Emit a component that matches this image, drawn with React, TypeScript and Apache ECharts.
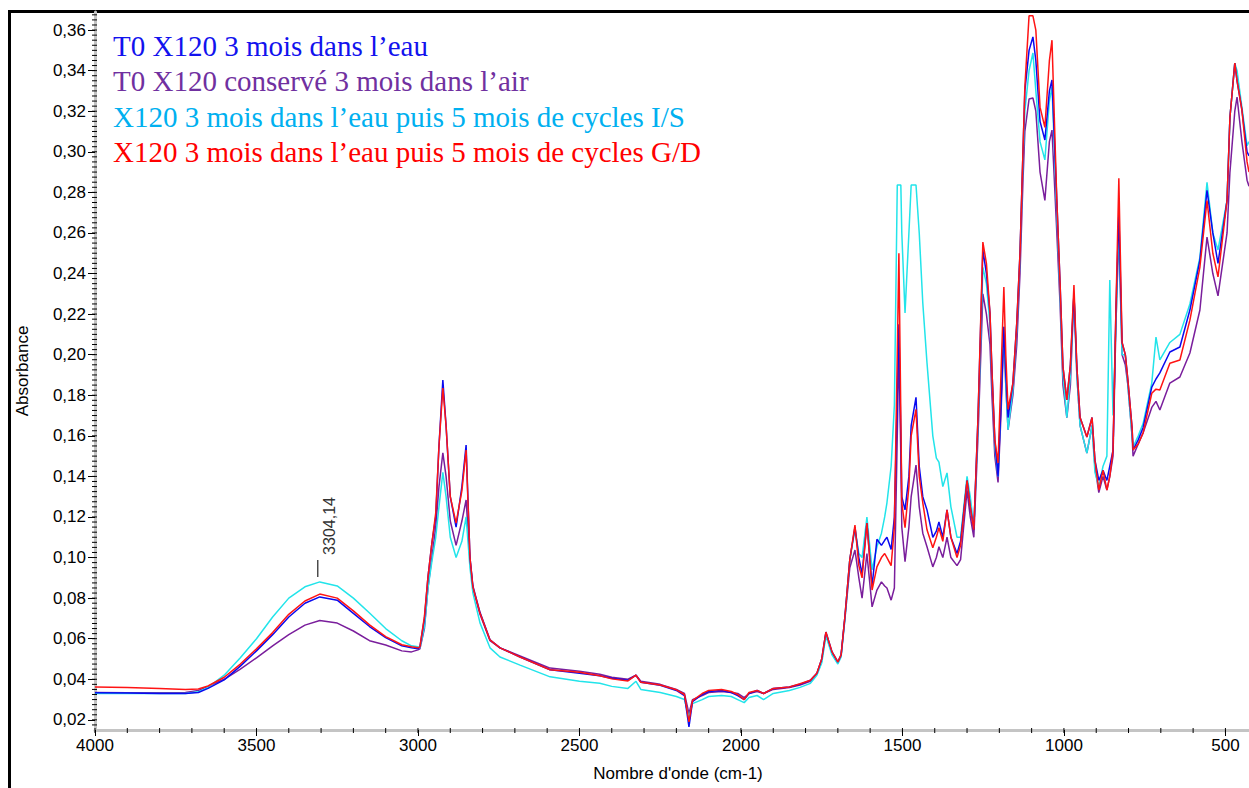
import React, { useEffect, useRef } from "react";
import * as echarts from "echarts";

// Wavenumber (cm-1) sampling shared by all four spectra
const wavenumbers = [
  4000, 3900, 3800, 3720, 3680, 3650, 3600, 3550, 3500, 3450, 3400, 3350, 3304, 3250, 3200, 3150, 3100, 3050, 3020, 3000,
  2994, 2980, 2969, 2957, 2945, 2935, 2923, 2913, 2900, 2882, 2864, 2851, 2839, 2830, 2808, 2777, 2746, 2684, 2591, 2500,
  2437, 2400, 2350, 2325, 2310, 2250, 2200, 2175, 2161, 2150, 2120, 2100, 2060, 2030, 2010, 1990, 1975, 1950, 1930, 1900,
  1850, 1817, 1785, 1765, 1750, 1737, 1718, 1700, 1690, 1678, 1663, 1647, 1635, 1625, 1610, 1594, 1579, 1565, 1555, 1548,
  1535, 1525, 1516, 1511, 1505, 1502, 1492, 1480, 1473, 1458, 1448, 1437, 1424, 1406, 1395, 1387, 1375, 1362, 1350, 1331,
  1320, 1300, 1290, 1279, 1266, 1251, 1240, 1229, 1223, 1214, 1204, 1195, 1186, 1180, 1173, 1158, 1146, 1136, 1127, 1121,
  1108, 1096, 1087, 1074, 1059, 1045, 1037, 1022, 1012, 1003, 991, 980, 969, 960, 950, 929, 913, 904, 892, 879,
  867, 858, 848, 839, 830, 820, 810, 802, 789, 786, 770, 755, 728, 715, 703, 672, 641, 610, 579, 557,
  539, 523, 495, 486, 471, 464, 449, 433, 427,
];

// T0 X120 3 mois dans l'eau (blue)
const t0Eau = [
  0.0333, 0.0332, 0.033, 0.033, 0.0335, 0.0355, 0.0397, 0.0465, 0.054, 0.062, 0.0707, 0.0775, 0.0806, 0.079, 0.0725, 0.066, 0.0605, 0.0565, 0.0555, 0.055,
  0.056, 0.07, 0.0905, 0.107, 0.12, 0.155, 0.1875, 0.165, 0.13, 0.115, 0.135, 0.1555, 0.1, 0.086, 0.073, 0.0595, 0.0555, 0.051, 0.0447, 0.043,
  0.0417, 0.0405, 0.0395, 0.042, 0.0385, 0.037, 0.0345, 0.032, 0.0165, 0.029, 0.0325, 0.034, 0.0345, 0.0335, 0.032, 0.03, 0.033, 0.0345, 0.033, 0.0355,
  0.0362, 0.0375, 0.0395, 0.043, 0.05, 0.0633, 0.0535, 0.0486, 0.052, 0.0712, 0.099, 0.115, 0.1, 0.092, 0.117, 0.086, 0.109, 0.106, 0.1085, 0.11,
  0.104, 0.12, 0.18, 0.215, 0.16, 0.13, 0.1235, 0.14, 0.165, 0.179, 0.145, 0.13, 0.1235, 0.11, 0.113, 0.1176, 0.11, 0.1235, 0.11, 0.102,
  0.108, 0.138, 0.125, 0.1137, 0.1693, 0.2516, 0.24, 0.2206, 0.1925, 0.158, 0.14, 0.175, 0.2137, 0.19, 0.169, 0.186, 0.2156, 0.25, 0.299, 0.33,
  0.35, 0.3566, 0.345, 0.315, 0.3058, 0.33, 0.3354, 0.276, 0.2353, 0.194, 0.1777, 0.195, 0.23, 0.194, 0.169, 0.1594, 0.169, 0.148, 0.138, 0.143,
  0.138, 0.145, 0.153, 0.222, 0.27, 0.206, 0.2, 0.1875, 0.164, 0.153, 0.158, 0.164, 0.184, 0.188, 0.191, 0.2013, 0.2038, 0.222, 0.2466, 0.281,
  0.26, 0.245, 0.276, 0.317, 0.3437, 0.335, 0.3206, 0.3, 0.298,
];

// T0 X120 conservé 3 mois dans l'air (purple)
const t0Air = [
  0.0335, 0.0334, 0.0333, 0.0335, 0.0345, 0.0365, 0.04, 0.045, 0.0506, 0.0565, 0.062, 0.0667, 0.069, 0.0677, 0.0638, 0.059, 0.0569, 0.054, 0.0535, 0.0545,
  0.055, 0.065, 0.085, 0.1, 0.115, 0.135, 0.1516, 0.14, 0.118, 0.106, 0.118, 0.1284, 0.099, 0.085, 0.072, 0.059, 0.0555, 0.0515, 0.0455, 0.044,
  0.0425, 0.041, 0.04, 0.042, 0.039, 0.0375, 0.035, 0.033, 0.023, 0.03, 0.032, 0.0335, 0.034, 0.0335, 0.033, 0.031, 0.033, 0.034, 0.033, 0.035,
  0.036, 0.0372, 0.039, 0.0425, 0.049, 0.0625, 0.053, 0.048, 0.0515, 0.07, 0.095, 0.1037, 0.09, 0.08, 0.102, 0.0757, 0.084, 0.088, 0.086, 0.085,
  0.079, 0.085, 0.16, 0.205, 0.15, 0.115, 0.098, 0.115, 0.13, 0.1456, 0.125, 0.112, 0.1053, 0.0954, 0.1, 0.1053, 0.1, 0.11, 0.1, 0.096,
  0.099, 0.133, 0.12, 0.11, 0.16, 0.23, 0.22, 0.205, 0.18, 0.15, 0.137, 0.17, 0.21, 0.185, 0.163, 0.18, 0.205, 0.24, 0.285, 0.31,
  0.326, 0.3265, 0.32, 0.29, 0.276, 0.305, 0.3107, 0.26, 0.225, 0.185, 0.169, 0.185, 0.23, 0.19, 0.165, 0.1515, 0.165, 0.145, 0.132, 0.14,
  0.1333, 0.14, 0.15, 0.215, 0.26, 0.2, 0.195, 0.185, 0.16, 0.15, 0.156, 0.1614, 0.174, 0.177, 0.1727, 0.186, 0.189, 0.2008, 0.222, 0.258,
  0.24, 0.229, 0.26, 0.29, 0.32, 0.327, 0.305, 0.286, 0.283,
];

// X120 3 mois dans l'eau puis 5 mois de cycles I/S (cyan)
const cyclesIS = [
  0.033, 0.033, 0.033, 0.033, 0.0338, 0.036, 0.042, 0.0506, 0.06, 0.0707, 0.08, 0.0856, 0.088, 0.086, 0.08, 0.0727, 0.065, 0.059, 0.0565, 0.056,
  0.0555, 0.066, 0.085, 0.098, 0.11, 0.125, 0.142, 0.13, 0.11, 0.1, 0.108, 0.12, 0.095, 0.0826, 0.0678, 0.0555, 0.051, 0.047, 0.0412, 0.039,
  0.038, 0.0365, 0.0355, 0.039, 0.035, 0.0335, 0.0315, 0.03, 0.021, 0.028, 0.03, 0.0315, 0.032, 0.0315, 0.03, 0.0285, 0.031, 0.032, 0.03, 0.033,
  0.0345, 0.036, 0.038, 0.042, 0.048, 0.0614, 0.052, 0.0475, 0.051, 0.07, 0.099, 0.114, 0.102, 0.1, 0.12, 0.094, 0.1053, 0.112, 0.12, 0.127,
  0.145, 0.175, 0.2836, 0.2836, 0.2836, 0.26, 0.2206, 0.26, 0.2836, 0.2836, 0.26, 0.2255, 0.196, 0.16, 0.149, 0.147, 0.135, 0.1417, 0.125, 0.11,
  0.11, 0.14, 0.13, 0.115, 0.165, 0.243, 0.235, 0.215, 0.19, 0.155, 0.14, 0.18, 0.2137, 0.185, 0.163, 0.183, 0.213, 0.248, 0.295, 0.32,
  0.34, 0.3487, 0.33, 0.305, 0.296, 0.325, 0.332, 0.27, 0.23, 0.19, 0.169, 0.19, 0.23, 0.19, 0.165, 0.1515, 0.165, 0.142, 0.135, 0.145,
  0.15, 0.2368, 0.17, 0.215, 0.265, 0.2, 0.2, 0.185, 0.16, 0.1545, 0.16, 0.166, 0.186, 0.2087, 0.1974, 0.206, 0.21, 0.225, 0.248, 0.285,
  0.26, 0.2516, 0.276, 0.317, 0.3437, 0.34, 0.322, 0.303, 0.305,
];

// X120 3 mois dans l'eau puis 5 mois de cycles G/D (red)
const cyclesGD = [
  0.0362, 0.036, 0.0355, 0.035, 0.0352, 0.0367, 0.041, 0.0475, 0.055, 0.063, 0.072, 0.0786, 0.082, 0.08, 0.0737, 0.0668, 0.061, 0.057, 0.056, 0.0555,
  0.056, 0.071, 0.0905, 0.107, 0.122, 0.155, 0.1836, 0.165, 0.13, 0.117, 0.133, 0.153, 0.1, 0.0855, 0.0727, 0.0594, 0.0555, 0.051, 0.0447, 0.0435,
  0.0417, 0.0402, 0.0392, 0.042, 0.0385, 0.0372, 0.0348, 0.0325, 0.019, 0.0295, 0.033, 0.0345, 0.035, 0.034, 0.0325, 0.03, 0.0335, 0.0345, 0.033, 0.0355,
  0.0362, 0.0378, 0.0395, 0.043, 0.05, 0.0633, 0.0535, 0.0486, 0.052, 0.0712, 0.099, 0.116, 0.096, 0.09, 0.117, 0.084, 0.0954, 0.1, 0.102, 0.1,
  0.096, 0.115, 0.2, 0.25, 0.17, 0.127, 0.1147, 0.135, 0.16, 0.173, 0.14, 0.127, 0.1137, 0.1048, 0.11, 0.1147, 0.108, 0.1235, 0.11, 0.1,
  0.106, 0.138, 0.125, 0.1137, 0.1693, 0.2555, 0.245, 0.2206, 0.1925, 0.158, 0.1466, 0.19, 0.2334, 0.2, 0.173, 0.186, 0.2156, 0.25, 0.2994, 0.332,
  0.367, 0.367, 0.36, 0.322, 0.312, 0.345, 0.355, 0.276, 0.2353, 0.194, 0.1777, 0.195, 0.2343, 0.194, 0.169, 0.1594, 0.169, 0.148, 0.1333, 0.143,
  0.1333, 0.14, 0.153, 0.222, 0.287, 0.206, 0.2, 0.1875, 0.164, 0.153, 0.156, 0.1614, 0.181, 0.183, 0.1826, 0.1958, 0.1974, 0.217, 0.2432, 0.276,
  0.25, 0.2383, 0.276, 0.317, 0.3437, 0.335, 0.3206, 0.295, 0.29,
];

const seriesNames = [
  "T0 X120 3 mois dans l’eau",
  "T0 X120 conservé 3 mois dans l’air",
  "X120 3 mois dans l’eau puis 5 mois de cycles I/S",
  "X120 3 mois dans l’eau puis 5 mois de cycles G/D",
];
const seriesValues = [t0Eau, t0Air, cyclesIS, cyclesGD];
const lineColors = ["#0a0af0", "#7a1e9c", "#22e4ea", "#ff1414"];
const legendColors = ["#1212ee", "#7030a0", "#00b0f0", "#ff0000"];
const drawOrder = [1, 2, 0, 3];

const yTickValues = [0.02, 0.04, 0.06, 0.08, 0.1, 0.12, 0.14, 0.16, 0.18, 0.2, 0.22, 0.24, 0.26, 0.28, 0.3, 0.32, 0.34, 0.36];
const xTickValues = [4000, 3500, 3000, 2500, 2000, 1500, 1000, 500];
const peakWavenumber = 3304;
const peakLabel = "3304,14";

const yMin = 0.015;
const yMax = 0.3689;
const xMin = 427;
const xMax = 4000;

const sans = "'Liberation Sans', Arial, sans-serif";
const serif = "'Liberation Serif', 'Times New Roman', serif";

export default function App() {
  const ref = useRef<HTMLDivElement>(null);

  useEffect(() => {
    if (!ref.current) return;
    const chart = echarts.init(ref.current, null, { renderer: "svg" });

    const yMinor: number[] = [];
    for (let k = 7; k <= 147; k++) yMinor.push(+(k * 0.0025).toFixed(4));
    const xMinor: number[] = [];
    for (let v = 500; v <= 4000; v += 100) xMinor.push(v);

    const series: any[] = drawOrder.map((i) => ({
      type: "line",
      name: seriesNames[i],
      data: wavenumbers.map((w, j) => [w, seriesValues[i][j]]),
      showSymbol: false,
      symbol: "none",
      silent: true,
      lineStyle: { color: lineColors[i], width: 1.5 },
      itemStyle: { color: lineColors[i] },
    }));

    // Minor ticks drawn across the grey axis bands through the axes' own scales
    series.push({
      type: "custom",
      silent: true,
      clip: false,
      z: 20,
      data: xMinor.map((v) => [v]),
      encode: { x: 0 },
      renderItem: (_params: any, api: any) => {
        const pt = api.coord([api.value(0), yMin]);
        return {
          type: "line",
          shape: { x1: pt[0], y1: pt[1] - 2, x2: pt[0], y2: pt[1] + 3 },
          style: { stroke: "#000", lineWidth: 1 },
        };
      },
    });
    series.push({
      type: "custom",
      silent: true,
      clip: false,
      z: 20,
      data: yMinor.map((v) => [xMax, v]),
      encode: { x: 0, y: 1 },
      renderItem: (_params: any, api: any) => {
        const pt = api.coord([xMax, api.value(1)]);
        return {
          type: "line",
          shape: { x1: pt[0] - 3, y1: pt[1], x2: pt[0] + 2, y2: pt[1] },
          style: { stroke: "#000", lineWidth: 1 },
        };
      },
    });

    const frame = [
      {
        type: "line",
        shape: { x1: 9.5, y1: 11.5, x2: 9.5, y2: 788 },
        style: { stroke: "#000", lineWidth: 3 },
        silent: true,
      },
      {
        type: "line",
        shape: { x1: 8, y1: 11.5, x2: 1249, y2: 11.5 },
        style: { stroke: "#000", lineWidth: 3 },
        silent: true,
      },
    ];

    const legendTexts = seriesNames.map((name, i) => ({
      type: "text",
      left: 113,
      top: 31 + i * 35.5,
      style: { text: name, fill: legendColors[i], font: `29px ${serif}` },
    }));

    chart.setOption({
      animation: false,
      backgroundColor: "#ffffff",
      grid: { left: 95, right: 0, top: 12, bottom: 58 },
      xAxis: {
        type: "value",
        min: xMin,
        max: xMax,
        inverse: true,
        position: "bottom",
        axisLine: { show: true, onZero: false, lineStyle: { color: "#c4c4c4", width: 3 } },
        axisTick: { show: true, customValues: xTickValues, length: 6, lineStyle: { color: "#000", width: 1 } },
        axisLabel: {
          customValues: xTickValues,
          color: "#000",
          fontFamily: sans,
          fontSize: 17,
          margin: 7,
          formatter: (v: number) => String(v),
        },
        splitLine: { show: false },
        name: "Nombre d'onde (cm-1)",
        nameLocation: "middle",
        nameGap: 35,
        nameTextStyle: { color: "#000", fontFamily: sans, fontSize: 17, padding: [0, 0, 0, 12] },
      },
      yAxis: {
        type: "value",
        min: yMin,
        max: yMax,
        position: "left",
        axisLine: { show: true, onZero: false, lineStyle: { color: "#c4c4c4", width: 3 } },
        axisTick: { show: true, customValues: yTickValues, length: 7, lineStyle: { color: "#000", width: 1 } },
        axisLabel: {
          customValues: yTickValues,
          color: "#000",
          fontFamily: sans,
          fontSize: 17,
          margin: 9,
          formatter: (v: number) => v.toFixed(2).replace(".", ","),
        },
        splitLine: { show: false },
        name: "Absorbance",
        nameLocation: "middle",
        nameGap: 64,
        nameTextStyle: { color: "#000", fontFamily: sans, fontSize: 17 },
      },
      series,
      graphic: [...legendTexts, ...frame],
    });

    // Peak annotation anchored on the I/S spectrum maximum
    const peakIdx = wavenumbers.indexOf(peakWavenumber);
    const p = chart.convertToPixel({ gridIndex: 0 }, [peakWavenumber, cyclesIS[peakIdx]]) as number[];
    if (p && isFinite(p[0])) {
      chart.setOption(
        {
          graphic: [
            ...legendTexts,
            ...frame,
            {
              type: "line",
              shape: { x1: p[0] - 2, y1: p[1] - 22, x2: p[0] - 2, y2: p[1] - 5 },
              style: { stroke: "#222", lineWidth: 1.2 },
              silent: true,
            },
            {
              type: "text",
              x: p[0] + 10,
              y: p[1] - 27,
              rotation: Math.PI / 2,
              style: {
                text: peakLabel,
                fill: "#333",
                font: `16px ${sans}`,
                textAlign: "left",
                textVerticalAlign: "middle",
              },
              silent: true,
            },
          ],
        },
        { replaceMerge: ["graphic"] }
      );
    }

    return () => chart.dispose();
  }, []);

  return (
    <div
      ref={ref}
      style={{ position: "fixed", left: 0, top: 0, width: 1249, height: 788, background: "#fff" }}
    />
  );
}
